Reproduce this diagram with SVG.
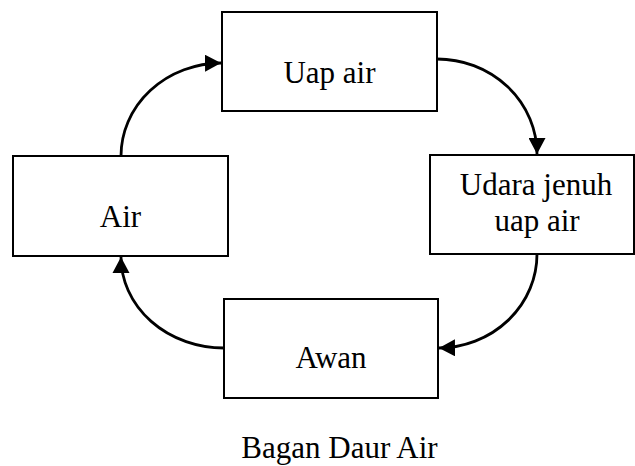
<svg xmlns="http://www.w3.org/2000/svg" width="635" height="466" viewBox="0 0 635 466">
<style>
.box{fill:#fff;stroke:#000;stroke-width:2}
.lbl{font-size:31px;fill:#000;text-anchor:middle}
.arc{fill:none;stroke:#000;stroke-width:2.8;marker-end:url(#ah)}
</style>
<defs>
<marker id="ah" markerUnits="userSpaceOnUse" markerWidth="17" markerHeight="17" refX="16" refY="8.5" orient="auto">
<path d="M0,0 L16,8.5 L0,17 z" fill="#000"/>
</marker>
</defs>
<rect width="635" height="466" fill="#fff"/>
<g id="connectors">
<path class="arc" d="M121,156 A101,93 0 0 1 221,63"/>
<path class="arc" d="M437,59 A100,95 0 0 1 537,154"/>
<path class="arc" d="M537,254 A99,94 0 0 1 439,348"/>
<path class="arc" d="M224,348 A103,91 0 0 1 121,257"/>
</g>
<g id="uap-air">
<rect class="box" x="222" y="12" width="215" height="99"/>
<text class="lbl" x="329.5" y="83" font-family="Times New Roman">Uap air</text>
</g>
<g id="udara-jenuh">
<rect class="box" x="430" y="155" width="204" height="99"/>
<text class="lbl" x="536" y="195" font-family="Times New Roman">Udara jenuh</text>
<text class="lbl" x="537" y="231" font-family="Times New Roman">uap air</text>
</g>
<g id="awan">
<rect class="box" x="224" y="299" width="214" height="99"/>
<text class="lbl" x="331" y="368" font-family="Times New Roman">Awan</text>
</g>
<g id="air">
<rect class="box" x="13" y="156" width="215" height="100"/>
<text class="lbl" x="120.5" y="227" font-family="Times New Roman">Air</text>
</g>
<text id="caption" class="lbl" x="339.5" y="458" font-family="Times New Roman">Bagan Daur Air</text>
</svg>
